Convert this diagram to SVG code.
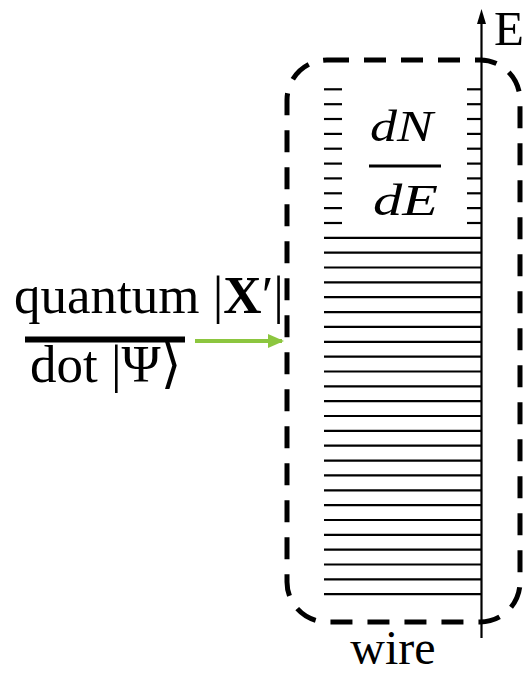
<svg xmlns="http://www.w3.org/2000/svg" width="529" height="675" viewBox="0 0 529 675">
<style>
text{font-family:"Liberation Serif","Times New Roman","DejaVu Serif",serif;fill:#000}
.lv line{stroke:#000;stroke-width:2.2}
</style>
<defs>
<marker id="gh" markerWidth="16" markerHeight="14" refX="14" refY="7" orient="auto" markerUnits="userSpaceOnUse"><path d="M0,0 L16,7 L0,14 Z" fill="#8cc63f"/></marker>
</defs>
<g id="wire-box">
<rect x="287" y="60" width="233" height="562" rx="40" fill="none" stroke="#000" stroke-width="5" stroke-dasharray="22 15"/>
</g>
<g id="levels" class="lv">
<line x1="324" y1="89.3" x2="342" y2="89.3"/><line x1="467" y1="89.3" x2="481" y2="89.3"/>
<line x1="324" y1="104.2" x2="342" y2="104.2"/><line x1="467" y1="104.2" x2="481" y2="104.2"/>
<line x1="324" y1="119" x2="342" y2="119"/><line x1="467" y1="119" x2="481" y2="119"/>
<line x1="324" y1="133.9" x2="342" y2="133.9"/><line x1="467" y1="133.9" x2="481" y2="133.9"/>
<line x1="324" y1="148.7" x2="342" y2="148.7"/><line x1="467" y1="148.7" x2="481" y2="148.7"/>
<line x1="324" y1="163.6" x2="342" y2="163.6"/><line x1="467" y1="163.6" x2="481" y2="163.6"/>
<line x1="324" y1="178.4" x2="342" y2="178.4"/><line x1="467" y1="178.4" x2="481" y2="178.4"/>
<line x1="324" y1="193.3" x2="342" y2="193.3"/><line x1="467" y1="193.3" x2="481" y2="193.3"/>
<line x1="324" y1="208.1" x2="342" y2="208.1"/><line x1="467" y1="208.1" x2="481" y2="208.1"/>
<line x1="324" y1="223" x2="342" y2="223"/><line x1="467" y1="223" x2="481" y2="223"/>
<line x1="324" y1="237.8" x2="481" y2="237.8"/>
<line x1="324" y1="252.7" x2="481" y2="252.7"/>
<line x1="324" y1="267.5" x2="481" y2="267.5"/>
<line x1="324" y1="282.4" x2="481" y2="282.4"/>
<line x1="324" y1="297.2" x2="481" y2="297.2"/>
<line x1="324" y1="312.1" x2="481" y2="312.1"/>
<line x1="324" y1="326.9" x2="481" y2="326.9"/>
<line x1="324" y1="341.8" x2="481" y2="341.8"/>
<line x1="324" y1="356.6" x2="481" y2="356.6"/>
<line x1="324" y1="371.5" x2="481" y2="371.5"/>
<line x1="324" y1="386.3" x2="481" y2="386.3"/>
<line x1="324" y1="401.2" x2="481" y2="401.2"/>
<line x1="324" y1="416" x2="481" y2="416"/>
<line x1="324" y1="430.9" x2="481" y2="430.9"/>
<line x1="324" y1="445.7" x2="481" y2="445.7"/>
<line x1="324" y1="460.6" x2="481" y2="460.6"/>
<line x1="324" y1="475.4" x2="481" y2="475.4"/>
<line x1="324" y1="490.3" x2="481" y2="490.3"/>
<line x1="324" y1="505.1" x2="481" y2="505.1"/>
<line x1="324" y1="520" x2="481" y2="520"/>
<line x1="324" y1="534.8" x2="481" y2="534.8"/>
<line x1="324" y1="549.7" x2="481" y2="549.7"/>
<line x1="324" y1="564.5" x2="481" y2="564.5"/>
<line x1="324" y1="579.4" x2="481" y2="579.4"/>
<line x1="324" y1="594.2" x2="481" y2="594.2"/>
</g>
<g id="axis">
<line x1="481.5" y1="638" x2="481.5" y2="20" stroke="#000" stroke-width="2.2"/>
<polygon points="481.5,9 477,24 486,24" fill="#000"/>
<text x="494" y="45" font-size="49">E</text>
</g>
<g id="dnde">
<text x="370" y="141" font-size="44" font-style="italic" textLength="63" lengthAdjust="spacingAndGlyphs">dN</text>
<line x1="369" y1="166" x2="441" y2="166" stroke="#000" stroke-width="3"/>
<text x="373" y="215" font-size="44" font-style="italic" textLength="65" lengthAdjust="spacingAndGlyphs">dE</text>
</g>
<g id="quantum-dot">
<text x="14" y="313" font-size="53">quantum |<tspan font-weight="bold">X</tspan>′|</text>
<line x1="25" y1="339.5" x2="185" y2="339.5" stroke="#000" stroke-width="6"/>
<text x="30" y="382" font-size="53">dot |Ψ⟩</text>
</g>
<g id="connectors">
<line x1="195" y1="341" x2="282" y2="341" stroke="#8cc63f" stroke-width="4" marker-end="url(#gh)"/>
</g>
<g id="wire-label">
<text x="393" y="664" font-size="48" text-anchor="middle">wire</text>
</g>
</svg>
